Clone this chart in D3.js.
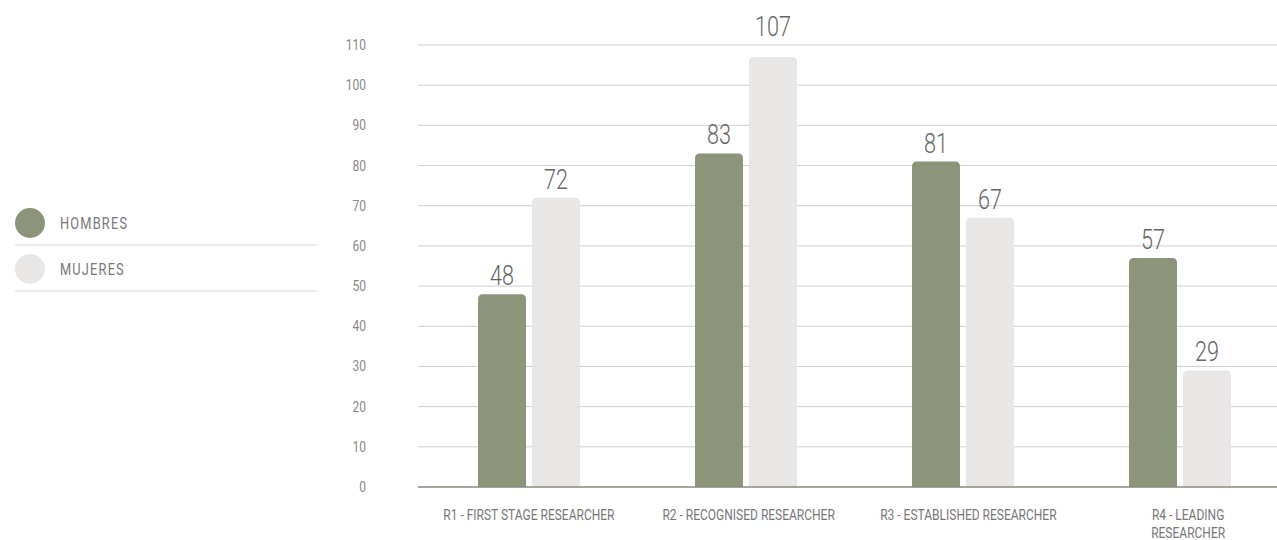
<!DOCTYPE html>
<html><head><meta charset="utf-8">
<script src="https://cdn.jsdelivr.net/npm/d3@7"></script>
<style>
body{margin:0;background:#fff;}
text{font-family:"Roboto","DejaVu Sans",sans-serif;}
</style></head>
<body><svg id="c" width="1277" height="540"></svg>
<script>
const categories = [["R1 - FIRST STAGE RESEARCHER"],["R2 - RECOGNISED RESEARCHER"],["R3 - ESTABLISHED RESEARCHER"],["R4 - LEADING","RESEARCHER"]];
const seriesNames = ["HOMBRES","MUJERES"];
const hombres = [48,83,81,57];
const mujeres = [72,107,67,29];
const yTicks = [0,10,20,30,40,50,60,70,80,90,100,110];
const colors = ["#8c9479","#e8e7e5"];

const svg = d3.select("#c");
const y = d3.scaleLinear().domain([0,110]).range([487,45]);
const x = d3.scaleBand().domain(d3.range(categories.length)).range([420,1288]);
const xl = d3.scaleBand().domain(d3.range(categories.length)).range([419,1298]);
const inner = d3.scaleBand().domain([0,1]).range([58,160]).paddingInner(0.111);
const SX = 0.8;
function ntext(sel,px,py){ return sel.append("text").attr("transform",`translate(${px},${py}) scale(${SX},1)`); }

// grid
svg.append("g").selectAll("line").data(yTicks.filter(d=>d>0)).join("line")
  .attr("x1",418).attr("x2",1277).attr("y1",d=>y(d)).attr("y2",d=>y(d))
  .attr("stroke","#cfcfcf").attr("stroke-width",1);
yTicks.forEach(d=>{
  ntext(svg,366,y(d)+5).attr("text-anchor","end").attr("fill","#888").attr("font-size",15).text(d);
});

const data = [hombres, mujeres];
function roundTop(x0,y0,w,h,r){
  r=Math.min(r,h);
  return `M${x0},${y0+h}V${y0+r}Q${x0},${y0} ${x0+r},${y0}H${x0+w-r}Q${x0+w},${y0} ${x0+w},${y0+r}V${y0+h}Z`;
}
const yMax = y.domain()[1];
data.forEach((vals,s)=>{
  const g = svg.append("g");
  g.selectAll("path").data(vals).join("path")
    .attr("d",(d,i)=>{const x0=x(i)+inner(s);return roundTop(x0,y(d),inner.bandwidth(),y(0)-y(d),5);})
    .attr("fill",colors[s]);
  vals.forEach((d,i)=>{
    // labels that would cross the top gridline sit above it
    const ly = (yMax - d) < 5 ? y(yMax)-9 : y(d)-9;
    ntext(g,x(i)+inner(s)+inner.bandwidth()/2,ly).attr("text-anchor","middle")
      .attr("fill","#666").attr("font-size",27).attr("font-weight",300).text(d);
  });
});
// baseline
svg.append("line").attr("x1",418).attr("x2",1277).attr("y1",y(0)).attr("y2",y(0))
  .attr("stroke","#8a8a80").attr("stroke-width",1.5);

// x labels
categories.forEach((lines,i)=>{
  lines.forEach((l,j)=>{
    ntext(svg,xl(i)+xl.bandwidth()/2,520+j*18).attr("text-anchor","middle")
      .attr("fill","#777").attr("font-size",15).text(l);
  });
});

// legend
const lg = svg.append("g");
seriesNames.forEach((n,i)=>{
  const cy = 223+i*46;
  lg.append("circle").attr("cx",30).attr("cy",cy).attr("r",15).attr("fill",colors[i]);
  ntext(lg,60,cy+6).attr("fill","#777").attr("font-size",16).attr("letter-spacing",1.5).text(n);
  lg.append("line").attr("x1",15).attr("x2",317).attr("y1",cy+22).attr("y2",cy+22)
    .attr("stroke","#d5d5d5").attr("stroke-width",1.2);
});
</script></body></html>
